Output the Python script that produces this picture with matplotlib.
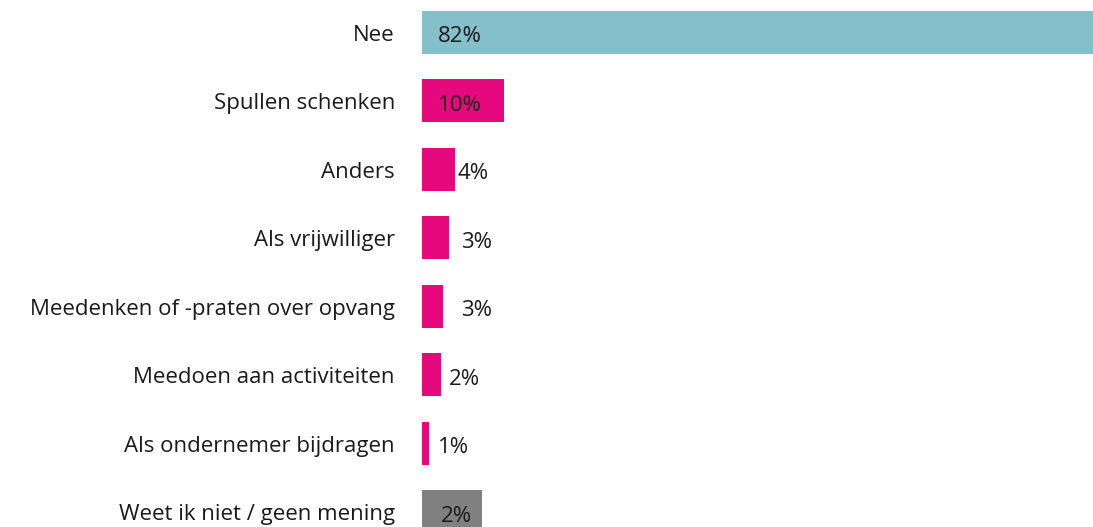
import matplotlib
matplotlib.use("Agg")
import matplotlib.pyplot as plt

categories = ["Nee", "Spullen schenken", "Anders", "Als vrijwilliger",
              "Meedenken of -praten over opvang", "Meedoen aan activiteiten",
              "Als ondernemer bijdragen", "Weet ik niet / geen mening"]
bar_values = [82.3, 10.0, 4.0, 3.3, 2.6, 2.3, 0.9, 7.4]
value_labels = ["82%", "10%", "4%", "3%", "3%", "2%", "1%", "2%"]
colors = ["#85BFC9", "#E6097D", "#E6097D", "#E6097D", "#E6097D",
          "#E6097D", "#E6097D", "#808080"]
# label x-positions (layout, in value units)
label_x = [2.0, 2.0, 4.4, 4.8, 4.8, 3.3, 2.0, 2.3]

plt.rcParams['font.family'] = ['Open Sans', 'DejaVu Sans']

W, H = 1093, 527
fig = plt.figure(figsize=(W / 100, H / 100), dpi=100)
x0 = 422
ax = fig.add_axes([x0 / W, 0, (W - x0) / W, 1])

step = 68.5
c0 = 32
pos = list(range(len(categories)))
ax.barh(pos, bar_values, height=43 / step, color=colors, align='center')
ax.set_xlim(0, 82.3)
ax.set_ylim((H - c0) / step, -c0 / step)
ax.axis('off')

for i, (lab, lx) in enumerate(zip(value_labels, label_x)):
    ax.text(lx, i + 0.07, lab, va='center', ha='left', fontsize=16, color='#1a1a1a')
    ax.text(-27 / 8.15, i + 0.05, categories[i], va='center', ha='right',
            fontsize=16, color='#1a1a1a', clip_on=False)

fig.savefig("out.png", dpi=100)
